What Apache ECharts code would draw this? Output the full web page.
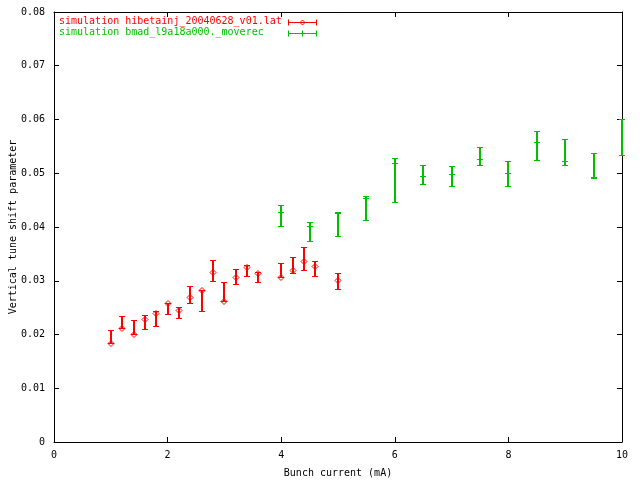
<!DOCTYPE html>
<html>
<head>
<meta charset="utf-8">
<script src="https://cdn.jsdelivr.net/npm/echarts@6/dist/echarts.min.js"></script>
<style>html,body{margin:0;padding:0;background:#fff;}#c{width:640px;height:480px;}</style>
</head>
<body>
<div id="c"></div>
<script>
var redName = 'simulation hibetainj_20040628_v01.lat';
var greenName = 'simulation bmad_l9a18a000._moverec';
var redX    = [1.0, 1.2, 1.4, 1.6, 1.8, 2.0, 2.2, 2.4, 2.6, 2.8, 3.0, 3.2, 3.4, 3.6, 4.0, 4.2, 4.4, 4.6, 5.0];
var redY    = [0.0183, 0.0211, 0.0200, 0.0228, 0.0240, 0.0257, 0.0245, 0.0269, 0.0281, 0.0316, 0.0262, 0.0306, 0.0324, 0.0314, 0.0306, 0.0319, 0.0336, 0.0327, 0.0301];
var redLow  = [0.0183, 0.0211, 0.0200, 0.0210, 0.0215, 0.0238, 0.0230, 0.0258, 0.0243, 0.0299, 0.0262, 0.0293, 0.0308, 0.0297, 0.0306, 0.0314, 0.0319, 0.0308, 0.0284];
var redHigh = [0.0208, 0.0234, 0.0226, 0.0236, 0.0243, 0.0258, 0.0251, 0.0290, 0.0281, 0.0338, 0.0297, 0.0321, 0.0329, 0.0316, 0.0332, 0.0344, 0.0362, 0.0336, 0.0314];
var greenX    = [4.0, 4.5, 5.0, 5.5, 6.0, 6.5, 7.0, 7.5, 8.0, 8.5, 9.0, 9.5, 10.0];
var greenY    = [0.0427, 0.0401, 0.0425, 0.0453, 0.0518, 0.0494, 0.0498, 0.0526, 0.0500, 0.0558, 0.0522, 0.0492, 0.0533];
var greenLow  = [0.0401, 0.0373, 0.0383, 0.0412, 0.0446, 0.0479, 0.0476, 0.0515, 0.0476, 0.0524, 0.0515, 0.0491, 0.0533];
var greenHigh = [0.0440, 0.0409, 0.0427, 0.0456, 0.0528, 0.0515, 0.0513, 0.0548, 0.0522, 0.0578, 0.0563, 0.0537, 0.0600];
var xTitle = 'Bunch current (mA)';
var yTitle = 'Vertical tune shift parameter';

var RED = '#ff0000', GREEN = '#00c000';
var FONT = 'DejaVu Sans Mono';

function rows(xs, ys, lo, hi) {
  return xs.map(function (x, i) { return [x, ys[i], lo[i], hi[i]]; });
}
function crisp(v) { return Math.round(v - 0.5) + 0.5; }

function makeRender(color, marker) {
  return function (params, api) {
    var x = api.value(0);
    var p = api.coord([x, api.value(1)]);
    var lo = api.coord([x, api.value(2)]);
    var hi = api.coord([x, api.value(3)]);
    var cx = Math.round(p[0]);
    var yl = crisp(lo[1]), yh = crisp(hi[1]), yc = crisp(p[1]);
    var cw = 3;
    var st = { stroke: color, lineWidth: 1, fill: null };
    var ch = [
      { type: 'line', shape: { x1: cx, y1: yh, x2: cx, y2: yl }, style: { stroke: color, lineWidth: 2 } },
      { type: 'line', shape: { x1: cx - cw, y1: yh, x2: cx + cw, y2: yh }, style: st },
      { type: 'line', shape: { x1: cx - cw, y1: yl, x2: cx + cw, y2: yl }, style: st }
    ];
    if (marker) {
      ch.push({ type: 'polygon', shape: { points: [[cx, yc - 3], [cx + 3, yc], [cx, yc + 3], [cx - 3, yc]] }, style: { stroke: color, lineWidth: 1, fill: null } });
    } else {
      ch.push({ type: 'line', shape: { x1: cx - cw, y1: yc, x2: cx + cw, y2: yc }, style: st });
    }
    return { type: 'group', children: ch };
  };
}

function legendSample(y, color, marker) {
  var st = { stroke: color, lineWidth: 1 };
  var x1 = 288.5, x2 = 316.5, xm = 302.5;
  var ch = [
    { type: 'line', shape: { x1: x1, y1: y, x2: x2, y2: y }, style: st },
    { type: 'line', shape: { x1: x1, y1: y - 3, x2: x1, y2: y + 3 }, style: st },
    { type: 'line', shape: { x1: x2, y1: y - 3, x2: x2, y2: y + 3 }, style: st }
  ];
  if (marker) {
    ch.push({ type: 'polygon', shape: { points: [[xm, y - 2.5], [xm + 2.5, y], [xm, y + 2.5], [xm - 2.5, y]] }, style: { stroke: color, lineWidth: 1, fill: null } });
  } else {
    ch.push({ type: 'line', shape: { x1: xm, y1: y - 3, x2: xm, y2: y + 3 }, style: st });
  }
  return { type: 'group', children: ch };
}

var axisCommon = {
  axisLine: { onZero: false, lineStyle: { color: '#000', width: 1 } },
  axisTick: { inside: true, length: 5, lineStyle: { color: '#000' } },
  splitLine: { show: false },
  axisLabel: { color: '#000', fontFamily: FONT, fontSize: 10 }
};

var chart = echarts.init(document.getElementById('c'), null, { renderer: 'canvas' });
chart.setOption({
  animation: false,
  backgroundColor: '#fff',
  grid: { left: 54, right: 18, top: 12, bottom: 38, containLabel: false, outerBoundsMode: 'none' },
  xAxis: [
    Object.assign({}, axisCommon, {
      type: 'value', min: 0, max: 10, interval: 2, position: 'bottom',
      name: xTitle, nameLocation: 'middle', nameGap: 26, nameMoveOverlap: false,
      nameTextStyle: { color: '#000', fontFamily: FONT, fontSize: 10 },
      axisLabel: { color: '#000', fontFamily: FONT, fontSize: 10, margin: 8 }
    }),
    Object.assign({}, axisCommon, {
      type: 'value', min: 0, max: 10, interval: 2, position: 'top',
      axisLabel: { show: false }
    })
  ],
  yAxis: [
    Object.assign({}, axisCommon, {
      type: 'value', min: 0, max: 0.08, interval: 0.01, position: 'left',
      name: yTitle, nameLocation: 'middle', nameGap: 36, nameRotate: 90, nameMoveOverlap: false,
      nameTextStyle: { color: '#000', fontFamily: FONT, fontSize: 10 },
      axisLabel: { color: '#000', fontFamily: FONT, fontSize: 10, margin: 9 }
    }),
    Object.assign({}, axisCommon, {
      type: 'value', min: 0, max: 0.08, interval: 0.01, position: 'right',
      axisLabel: { show: false }
    })
  ],
  series: [
    {
      name: redName, type: 'custom', xAxisIndex: 0, yAxisIndex: 0, clip: false,
      renderItem: makeRender(RED, true),
      encode: { x: 0, y: [1, 2, 3] },
      data: rows(redX, redY, redLow, redHigh)
    },
    {
      name: greenName, type: 'custom', xAxisIndex: 0, yAxisIndex: 0, clip: false,
      renderItem: makeRender(GREEN, false),
      encode: { x: 0, y: [1, 2, 3] },
      data: rows(greenX, greenY, greenLow, greenHigh)
    }
  ],
  graphic: [
    { type: 'text', left: 59, top: 16, style: { text: redName, fill: RED, font: '10px "DejaVu Sans Mono"' } },
    { type: 'text', left: 59, top: 27, style: { text: greenName, fill: GREEN, font: '10px "DejaVu Sans Mono"' } },
    legendSample(22.5, RED, true),
    legendSample(33.5, GREEN, false)
  ]
});
</script>
</body>
</html>
